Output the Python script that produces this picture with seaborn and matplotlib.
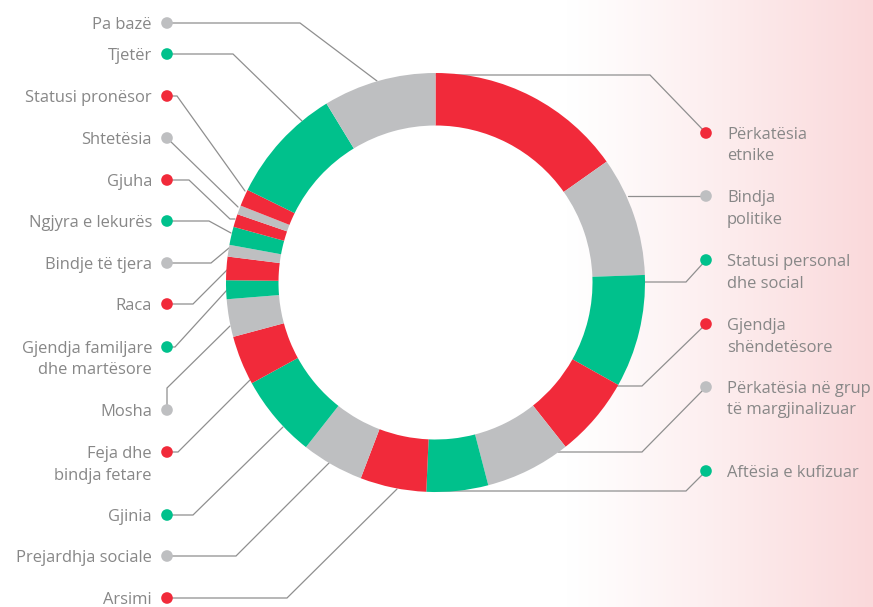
import numpy as np
import matplotlib
matplotlib.use("Agg")
import matplotlib.pyplot as plt
import matplotlib.colors as mcolors
import seaborn as sns
import pandas as pd

# ---------------- data (share of cases, %, clockwise from 12 o'clock) ----------------
categories = [
    "Përkatësia\netnike", "Bindja\npolitike", "Statusi personal\ndhe social",
    "Gjendja\nshëndetësore", "Përkatësia në grup\ntë margjinalizuar",
    "Aftësia e kufizuar", "Arsimi", "Prejardhja sociale", "Gjinia",
    "Feja dhe\nbindja fetare", "Mosha", "Gjendja familjare\ndhe martësore",
    "Raca", "Bindje të tjera", "Ngjyra e lekurës", "Gjuha", "Shtetësia",
    "Statusi pronësor", "Tjetër", "Pa bazë",
]
values = [15.2, 9.2, 8.7, 6.2, 6.6, 4.75, 5.1, 4.8, 6.4, 3.8, 2.9, 1.45,
          1.8, 0.9, 1.4, 1.0, 0.7, 1.3, 9.0, 8.7]
groups = ["r", "g", "e", "r", "g", "e", "r", "g", "e", "r", "g", "e",
          "r", "g", "e", "r", "g", "r", "e", "g"]

# ---------------- styles / layout ----------------
palette = {"r": "#F12A3A", "g": "#BEBFC1", "e": "#00C18C"}
TEXT = "#878787"
LINE = "#8f8f8f"
FS = 11.9
W, H = 873, 607
CX, CY, R, RW = 435.5, 282.5, 209.5, 52.5

# label side, dot position, elbow point(s), anchor on the ring
layout = {
    "Përkatësia\netnike": ("R", (706, 133), [(650, 75)], (436, 75)),
    "Bindja\npolitike": ("R", (706, 196), [], (628, 196)),
    "Statusi personal\ndhe social": ("R", (706, 260), [(686, 282)], (640, 282)),
    "Gjendja\nshëndetësore": ("R", (706, 324), [(642, 386)], (616, 386)),
    "Përkatësia në grup\ntë margjinalizuar": ("R", (706, 387), [(642, 452)], (558, 452)),
    "Aftësia e kufizuar": ("R", (706, 471), [(686, 491)], (432, 491)),
    "Arsimi": ("L", (167, 598), [(287, 598)], (397, 489)),
    "Prejardhja sociale": ("L", (167, 556), [(236, 556)], (330, 462)),
    "Gjinia": ("L", (167, 515), [(193, 515)], (283, 427)),
    "Feja dhe\nbindja fetare": ("L", (167, 452), [(178, 452)], (250, 380)),
    "Mosha": ("L", (167, 410), [(167, 388)], (230, 326)),
    "Gjendja familjare\ndhe martësore": ("L", (167, 347), [(175, 347)], (227, 290)),
    "Raca": ("L", (167, 304), [(193, 304)], (227, 270)),
    "Bindje të tjera": ("L", (167, 263), [(211, 263)], (229, 248)),
    "Ngjyra e lekurës": ("L", (167, 221), [(209, 221)], (231, 233)),
    "Gjuha": ("L", (167, 180), [(189, 180), (230, 219)], (235, 219)),
    "Shtetësia": ("L", (167, 138), [], (238, 207)),
    "Statusi pronësor": ("L", (167, 96), [(177, 96)], (245, 191)),
    "Tjetër": ("L", (167, 54), [(233, 54)], (302, 121)),
    "Pa bazë": ("L", (167, 23), [(300, 23)], (377, 81)),
}

sns.set_theme(style="white")
plt.rcParams["font.family"] = ["Open Sans", "DejaVu Sans"]

fig = plt.figure(figsize=(W / 100, H / 100), dpi=100)
ax = fig.add_axes([0, 0, 1, 1])

# background gradient (white -> light pink on the right)
grad = np.linspace(0, 1, W)
t = np.clip((grad - 0.65) / 0.35, 0, 1) ** 1.1
white = np.array(mcolors.to_rgb("#FFFFFF"))
pink = np.array(mcolors.to_rgb("#FAD9DB"))
img = (white[None, :] * (1 - t[:, None]) + pink[None, :] * t[:, None])[None, :, :]
ax.imshow(img, extent=[0, W, H, 0], aspect="auto", zorder=0)

# leader lines (behind the ring)
for cat in categories:
    side, dot, elbows, anchor = layout[cat]
    pts = [dot] + elbows + [anchor]
    xs, ys = zip(*pts)
    ax.plot(xs, ys, color=LINE, lw=0.9, zorder=1, solid_joinstyle="miter")

# donut
cols = [palette[g] for g in groups]
ax.pie(values, colors=cols, startangle=-90, counterclock=True,
       center=(CX, CY), radius=R,
       wedgeprops=dict(width=RW, linewidth=0, edgecolor="none", zorder=2),
       frame=True)

# dots via seaborn
df = pd.DataFrame({
    "cat": categories,
    "grp": groups,
    "x": [layout[c][1][0] for c in categories],
    "y": [layout[c][1][1] for c in categories],
})
sns.scatterplot(data=df, x="x", y="y", hue="grp", palette=palette, s=70,
                linewidth=0, legend=False, ax=ax, zorder=3)

# labels
for cat in categories:
    side, dot, elbows, anchor = layout[cat]
    lines = cat.split("\n")
    for i, ln in enumerate(lines):
        y = dot[1] + i * 21.5
        if side == "L":
            ax.text(dot[0] - 15, y, ln, ha="right", va="center_baseline",
                    fontsize=FS, color=TEXT)
        else:
            ax.text(dot[0] + 21, y, ln, ha="left", va="center_baseline",
                    fontsize=FS, color=TEXT)

ax.set_xlim(0, W)
ax.set_ylim(H, 0)
ax.set_aspect("equal")
ax.axis("off")
fig.savefig("out.png", dpi=100)
